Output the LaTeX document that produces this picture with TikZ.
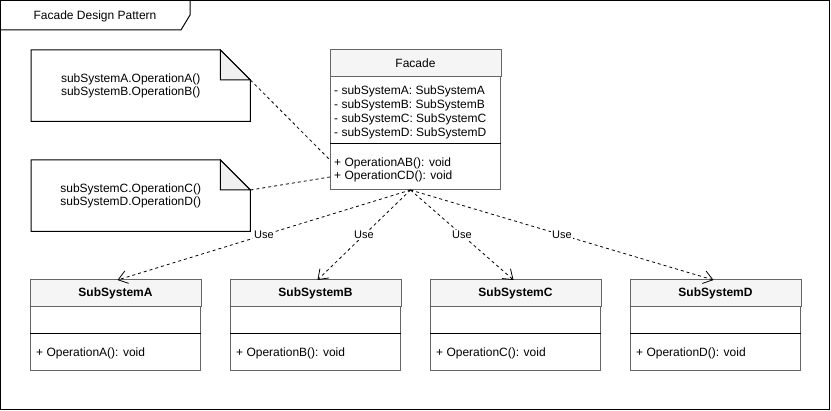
\documentclass[tikz,border=0pt]{standalone}
\usepackage{fontspec}
\setmainfont{Liberation Sans}
\usetikzlibrary{arrows.meta,calc}
\definecolor{boxgray}{HTML}{666666}
\definecolor{hdrfill}{HTML}{F5F5F5}
\definecolor{foldfill}{HTML}{F0F0F0}
\tikzset{
  umlbox/.style={draw=boxgray, fill=white, line width=1pt, rectangle, inner sep=0pt, anchor=north west},
  hdrband/.style={draw=boxgray, fill=hdrfill, line width=1pt},
  sepline/.style={draw=black, line width=1pt},
  txt/.style={font=\fontsize{12}{14}\selectfont, inner sep=0pt},
  boldtxt/.style={font=\bfseries\fontsize{12}{14}\selectfont, inner sep=0pt},
  membertxt/.style={txt, anchor=west, align=left},
  notespace/.style={rectangle, inner sep=0pt, anchor=north west, minimum width=219pt, minimum height=71pt},
  noteline/.style={draw=black, line width=1pt},
  depline/.style={draw=black, line width=0.8pt, dash pattern=on 3pt off 3pt},
  usearrow/.style={depline, -{Straight Barb[length=9pt,width=13pt,line width=0.8pt]}},
  uselabel/.style={font=\fontsize{11}{13}\selectfont, fill=white, inner sep=1pt}
}
\begin{document}
\begin{tikzpicture}[x=1pt, y=-1pt]
\useasboundingbox (0,0) rectangle (831,411);

% frame with its name tab
\draw[line width=1pt] (0.5,0.5) rectangle (829.5,409.5);
\draw[line width=1pt] (0.5,30) -- (181,30) -- (190,15) -- (190,0.5);
\node[txt] (title) at (95,16) {Facade Design Pattern};

% Facade class
\node[umlbox, minimum width=170pt, minimum height=139pt] (facade) at (330,50) {};
\draw[hdrband] (facade.north west) rectangle ([yshift=-27pt]facade.north east);
\draw[sepline] ([yshift=-94pt]facade.north west) -- ([yshift=-94pt]facade.north east);
\node[txt] (facadeName) at ([yshift=-13.5pt]facade.north) {Facade};
\node[membertxt] (facadeAttr) at (334,112) {- subSystemA: SubSystemA\\- subSystemB: SubSystemB\\- subSystemC: SubSystemC\\- subSystemD: SubSystemD};
\node[membertxt, font=\fontsize{12}{13.5}\selectfont] (facadeOps) at (334,170) {+ OperationAB(): void\\+ OperationCD(): void};

% notes
\foreach \nm/\ny/\la/\lb in {noteA/50/subSystemA.OperationA()/subSystemB.OperationB(),
                              noteB/160/subSystemC.OperationC()/subSystemD.OperationD()} {
  \node[notespace] (\nm) at (31,\ny) {};
  \draw[noteline, fill=white] (\nm.north west) -- ([xshift=-30pt]\nm.north east)
     -- ([yshift=-30pt]\nm.north east) -- (\nm.south east) -- (\nm.south west) -- cycle;
  \draw[noteline, fill=foldfill] ([xshift=-30pt]\nm.north east)
     -- ([xshift=-30pt,yshift=-30pt]\nm.north east) -- ([yshift=-30pt]\nm.north east) -- cycle;
  \node[txt, align=center, font=\fontsize{12}{13}\selectfont] (\nm text) at ([xshift=-10pt,yshift=-0.5pt]\nm.center) {\la\\\lb};
}

% note attachments
\draw[depline] ([yshift=-30pt]noteA.north east) -- ([yshift=-110pt]facade.north west);
\draw[depline] ([yshift=-30pt]noteB.north east) -- ([yshift=-127pt]facade.north west);

% subsystem classes
\foreach \nm/\sx/\op in {subA/30/OperationA, subB/230/OperationB, subC/430/OperationC, subD/630/OperationD} {
  \node[umlbox, minimum width=170pt, minimum height=90pt] (\nm) at (\sx,280) {};
  \draw[hdrband] (\nm.north west) rectangle ([yshift=-27pt]\nm.north east);
  \draw[sepline] ([yshift=-54pt]\nm.north west) -- ([yshift=-54pt]\nm.north east);
  \node[membertxt] (\nm op) at ([xshift=6pt,yshift=18pt]\nm.south west) {+ \op(): void};
}
\node[boldtxt] (subAname) at ([yshift=-13.5pt]subA.north) {SubSystemA};
\node[boldtxt] (subBname) at ([yshift=-13.5pt]subB.north) {SubSystemB};
\node[boldtxt] (subCname) at ([yshift=-13.5pt]subC.north) {SubSystemC};
\node[boldtxt] (subDname) at ([yshift=-13.5pt]subD.north) {SubSystemD};

% usage dependencies
\coordinate (usesrc) at ([xshift=-5pt]facade.south);
\draw[usearrow] (usesrc) -- node[uselabel] {Use} ([xshift=2pt]subA.north);
\draw[usearrow] (usesrc) -- node[uselabel] {Use} ([xshift=2pt]subB.north);
\draw[usearrow] (usesrc) -- node[uselabel] {Use} ([xshift=-2pt]subC.north);
\draw[usearrow] (usesrc) -- node[uselabel] {Use} ([xshift=-2pt]subD.north);
\end{tikzpicture}
\end{document}
